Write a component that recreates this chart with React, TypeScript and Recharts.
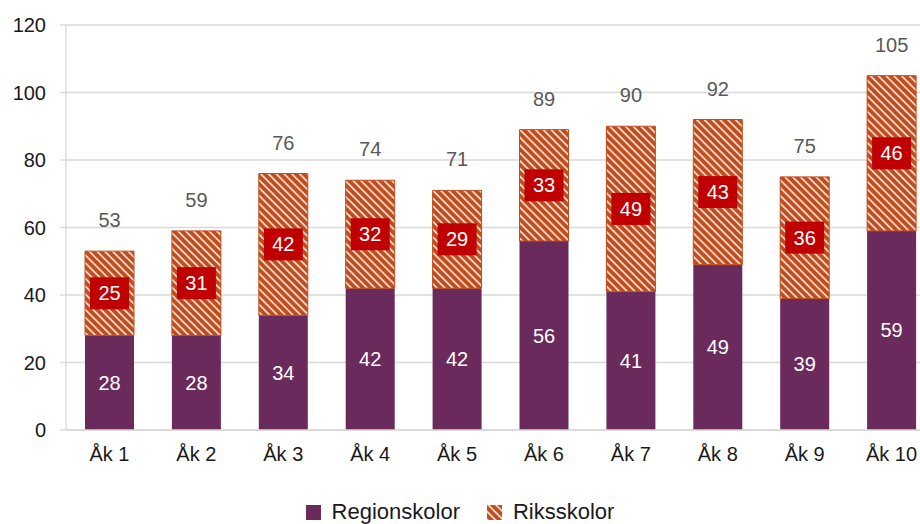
import React from "react";
import { BarChart, Bar, XAxis, YAxis, CartesianGrid, LabelList, Legend } from "recharts";

const categories = ["Åk 1", "Åk 2", "Åk 3", "Åk 4", "Åk 5", "Åk 6", "Åk 7", "Åk 8", "Åk 9", "Åk 10"];
const regionskolor = [28, 28, 34, 42, 42, 56, 41, 49, 39, 59];
const riksskolor = [25, 31, 42, 32, 29, 33, 49, 43, 36, 46];
const totals = [53, 59, 76, 74, 71, 89, 90, 92, 75, 105];
const yTicks = [0, 20, 40, 60, 80, 100, 120];

const data = categories.map((c, i) => ({
  name: c,
  region: regionskolor[i],
  riks: riksskolor[i],
  total: totals[i],
}));

const FONT = "'Liberation Sans', Arial, sans-serif";
const PURPLE = "#6B2A5C";
const ORANGE = "#BF4E1F";
const BOXRED = "#C00000";

const RegionLabel = (props: any) => {
  const { x, y, width, height, value } = props;
  return (
    <text x={x + width / 2} y={y + height / 2} dy="0.35em" textAnchor="middle" fill="#ffffff" fontSize={20} fontFamily={FONT}>
      {value}
    </text>
  );
};

const RiksLabel = (props: any) => {
  const { x, y, width, height, value } = props;
  const cx = x + width / 2;
  const cy = y + height / 2;
  return (
    <g>
      <rect x={cx - 19.5} y={cy - 16} width={39} height={32} fill={BOXRED} />
      <text x={cx} y={cy} dy="0.35em" textAnchor="middle" fill="#ffffff" fontSize={20} fontFamily={FONT}>
        {value}
      </text>
    </g>
  );
};

const TotalLabel = (props: any) => {
  const { x, y, width, value } = props;
  return (
    <text x={x + width / 2} y={y - 31} dy="0.35em" textAnchor="middle" fill="#595959" fontSize={20} fontFamily={FONT}>
      {value}
    </text>
  );
};

const CustomLegend = () => (
  <div style={{ width: 920, height: 24, display: "flex", justifyContent: "center", alignItems: "center", fontFamily: FONT, fontSize: 22, color: "#1a1a1a" }}>
    <span style={{ display: "inline-block", width: 15, height: 15, background: PURPLE, marginRight: 11 }} />
    <span style={{ marginRight: 27 }}>Regionskolor</span>
    <svg width={15} height={15} style={{ marginRight: 11 }}>
      <rect x={0} y={0} width={15} height={15} fill="url(#hatchRiks)" />
    </svg>
    <span>Riksskolor</span>
  </div>
);

export default function App() {
  return (
    <div style={{ position: "absolute", left: 0, top: 0, width: 920, height: 524, overflow: "hidden", background: "#fff" }}>
      <svg width={0} height={0} style={{ position: "absolute" }}>
        <defs>
          <pattern id="hatchRiks" width={5.5} height={5.5} patternUnits="userSpaceOnUse" patternTransform="rotate(-45)">
            <rect x={0} y={0} width={5.5} height={5.5} fill={ORANGE} />
            <rect x={0} y={0} width={1.8} height={5.5} fill="#F4D6C8" />
          </pattern>
        </defs>
      </svg>
      <BarChart
        width={940}
        height={524}
        data={data}
        margin={{ top: 25, right: 5, left: 6, bottom: 0 }}
        barSize={49}
      >
        <CartesianGrid vertical={false} stroke="#D9D9D9" strokeWidth={1.3} />
        <XAxis
          dataKey="name"
          height={70}
          tickLine={false}
          axisLine={{ stroke: "#D9D9D9", strokeWidth: 1.3 }}
          tickMargin={11}
          tick={{ fill: "#1a1a1a", fontSize: 20, fontFamily: FONT }}
          interval={0}
        />
        <YAxis
          width={60}
          domain={[0, 120]}
          ticks={yTicks}
          tickSize={6}
          tickMargin={14}
          tickLine={{ stroke: "#D9D9D9", strokeWidth: 1.3 }}
          axisLine={{ stroke: "#D9D9D9", strokeWidth: 1.3 }}
          tick={{ fill: "#1a1a1a", fontSize: 20, fontFamily: FONT }}
        />
        <Legend verticalAlign="bottom" content={<CustomLegend />} wrapperStyle={{ left: 0, width: 920, bottom: 0 }} />
        <Bar dataKey="region" name="Regionskolor" stackId="a" fill={PURPLE} isAnimationActive={false}>
          <LabelList dataKey="region" content={<RegionLabel />} />
        </Bar>
        <Bar dataKey="riks" name="Riksskolor" stackId="a" fill="url(#hatchRiks)" stroke={ORANGE} strokeWidth={1} isAnimationActive={false}>
          <LabelList dataKey="riks" content={<RiksLabel />} />
          <LabelList dataKey="total" content={<TotalLabel />} />
        </Bar>
      </BarChart>
    </div>
  );
}
